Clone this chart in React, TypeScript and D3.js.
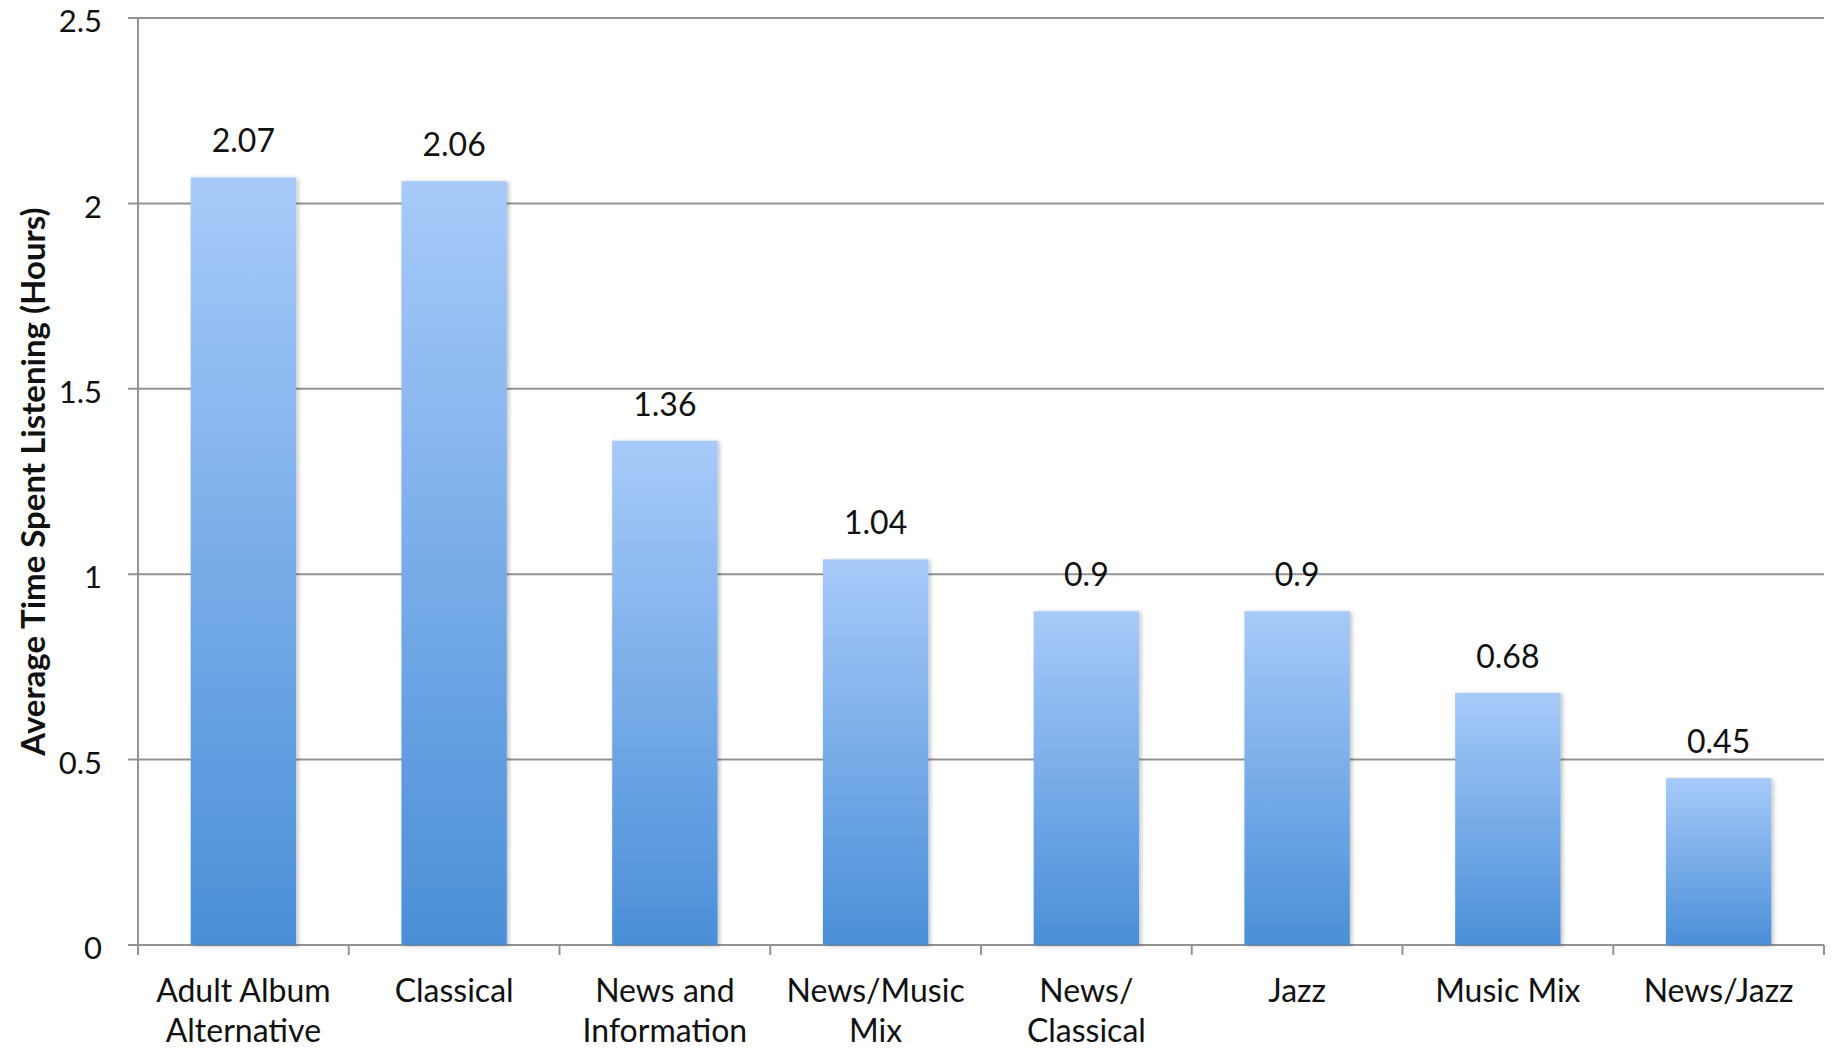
import React from "react";
import * as d3 from "d3";

const categories = [
  "Adult Album Alternative",
  "Classical",
  "News and Information",
  "News/Music Mix",
  "News/Classical",
  "Jazz",
  "Music Mix",
  "News/Jazz",
];
const labelLines = [
  ["Adult Album", "Alternative"],
  ["Classical"],
  ["News and", "Information"],
  ["News/Music", "Mix"],
  ["News/", "Classical"],
  ["Jazz"],
  ["Music Mix"],
  ["News/Jazz"],
];
const values = [2.07, 2.06, 1.36, 1.04, 0.9, 0.9, 0.68, 0.45];
const valueLabels = ["2.07", "2.06", "1.36", "1.04", "0.9", "0.9", "0.68", "0.45"];
const yTicks = [0, 0.5, 1, 1.5, 2, 2.5];
const yTickLabels = ["0", "0.5", "1", "1.5", "2", "2.5"];
const yTitle = "Average Time Spent Listening (Hours)";

const W = 1834;
const H = 1050;
const M = { left: 138, right: 1824, top: 18, bottom: 945 };
const FONT = "Lato, 'Open Sans', sans-serif";
const GRID = "#939393";

export default function App() {
  const x = d3
    .scaleBand<string>()
    .domain(categories)
    .range([M.left, M.right])
    .paddingInner(0.5)
    .paddingOuter(0.25);
  const y = d3.scaleLinear().domain([0, 2.5]).range([M.bottom, M.top]);
  const step = x.step();
  const boundaries = d3.range(categories.length + 1).map((i) => M.left + i * step);

  return (
    <svg
      width={W}
      height={H}
      style={{ position: "absolute", left: 0, top: 0, background: "#fff" }}
      fontFamily={FONT}
    >
      <defs>
        <linearGradient id="barGrad" x1="0" y1="0" x2="0" y2="1">
          <stop offset="0" stopColor="#a7caf9" />
          <stop offset="1" stopColor="#4a8fd8" />
        </linearGradient>
        <filter id="shadow" x="-10%" y="-10%" width="130%" height="130%">
          <feDropShadow dx="2" dy="1" stdDeviation="2" floodColor="#000" floodOpacity="0.25" />
        </filter>
      </defs>
      {yTicks.map((t) => (
        <line
          key={"g" + t}
          x1={M.left - 10}
          x2={M.right}
          y1={y(t)}
          y2={y(t)}
          stroke={GRID}
          strokeWidth={2}
        />
      ))}
      <line x1={M.left} x2={M.left} y1={M.top} y2={M.bottom + 10} stroke={GRID} strokeWidth={2} />
      {boundaries.map((bx, i) => (
        <line key={"bt" + i} x1={bx} x2={bx} y1={M.bottom} y2={M.bottom + 10} stroke={GRID} strokeWidth={2} />
      ))}
      {categories.map((c, i) => (
        <rect
          key={c}
          x={x(c)}
          y={y(values[i])}
          width={x.bandwidth()}
          height={y(0) - y(values[i])}
          fill="url(#barGrad)"
          filter="url(#shadow)"
        />
      ))}
      {categories.map((c, i) => (
        <text
          key={"v" + c}
          x={(x(c) as number) + x.bandwidth() / 2}
          y={y(values[i]) - 25}
          textAnchor="middle"
          fontSize={32}
          fill="#111"
        >
          {valueLabels[i]}
        </text>
      ))}
      {yTicks.map((t, i) => (
        <text
          key={"yt" + t}
          x={102}
          y={y(t) + 3}
          dy="0.36em"
          textAnchor="end"
          fontSize={31}
          fill="#111"
        >
          {yTickLabels[i]}
        </text>
      ))}
      {categories.map((c, i) => (
        <text key={"c" + c} textAnchor="middle" fontSize={32} fill="#111">
          {labelLines[i].map((ln, j) => (
            <tspan key={j} x={(x(c) as number) + x.bandwidth() / 2} y={1002 + j * 40}>
              {ln}
            </tspan>
          ))}
        </text>
      ))}
      <text
        transform={`translate(45, ${(M.top + M.bottom) / 2}) rotate(-90)`}
        textAnchor="middle"
        fontSize={33}
        fontWeight="bold"
        fill="#111"
      >
        {yTitle}
      </text>
    </svg>
  );
}
